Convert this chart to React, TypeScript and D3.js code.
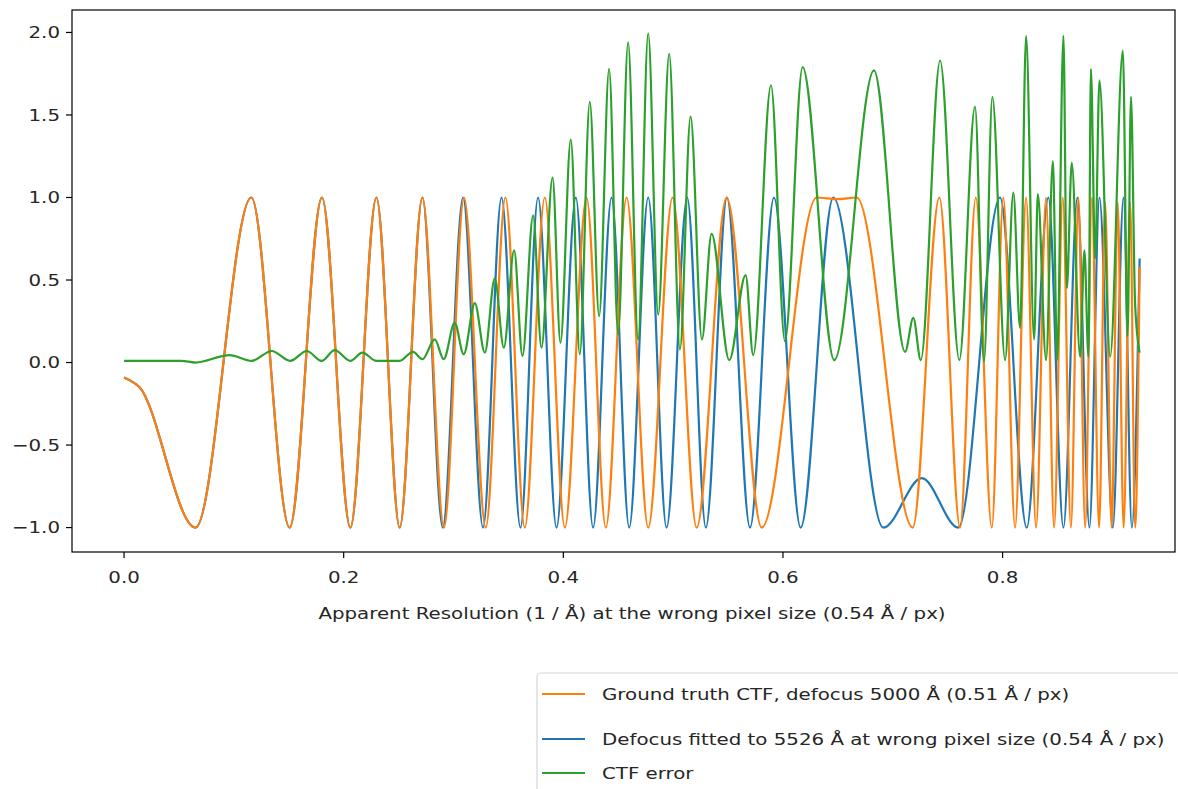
import React from 'react';
import * as d3 from 'd3';

// extrema, [resolution 1/Å, CTF value]
const groundTruth: [number, number][] = [
  [0, -0.09], [0.0141, -0.15], [0.0651, -1], [0.1159, 1], [0.1508, -1], [0.1802, 1],
  [0.2061, -1], [0.2298, 1], [0.251, -1], [0.2717, 1], [0.2914, -1], [0.3096, 1],
  [0.3294, -1], [0.3473, 1], [0.3649, -1], [0.3831, 1], [0.4014, -1], [0.4211, 1],
  [0.4387, -1], [0.4576, 1], [0.4773, -1], [0.4995, 1], [0.5214, -1], [0.5487, 1],
  [0.5806, -1], [0.6307, 1], [0.6492, 0.99], [0.6671, 1], [0.7182, -1], [0.7424, 1],
  [0.7613, -1], [0.7756, 1], [0.7902, -1], [0.8007, 1], [0.8114, -1], [0.8214, 1],
  [0.8305, -1], [0.8396, 1], [0.8469, -1], [0.8548, 1], [0.8622, -1], [0.8691, 1],
  [0.8752, -1], [0.8813, 1], [0.8879, -1], [0.8934, 0.97], [0.8993, -1], [0.9048, 0.97],
  [0.9102, -1], [0.9162, 0.97], [0.9207, -1], [0.9248, 0.58],
];

const fitted: [number, number][] = [
  [0, -0.09], [0.0141, -0.15], [0.0651, -1], [0.1159, 1], [0.1508, -1], [0.1802, 1],
  [0.2061, -1], [0.2298, 1], [0.251, -1], [0.2717, 1], [0.2902, -1], [0.3087, 1],
  [0.3269, -1], [0.3437, 1], [0.361, -1], [0.377, 1], [0.3938, -1], [0.4114, 1],
  [0.4271, -1], [0.4439, 1], [0.46, -1], [0.4773, 1], [0.494, -1], [0.5128, 1],
  [0.5298, -1], [0.549, 1], [0.57, -1], [0.5918, 1], [0.6161, -1], [0.6458, 1],
  [0.6914, -1], [0.7264, -0.7], [0.7597, -1], [0.7977, 1], [0.822, -1], [0.8417, 1],
  [0.8554, -1], [0.8681, 1], [0.8791, -1], [0.8882, 1], [0.9004, -1], [0.9101, 1],
  [0.9177, -1], [0.9248, 0.63],
];

const ctfError: [number, number][] = [
  [0, 0.01], [0.0521, 0.01], [0.0651, 0], [0.0961, 0.045], [0.1162, 0.01], [0.1344, 0.07],
  [0.1514, 0.01], [0.1663, 0.07], [0.18, 0.01], [0.1918, 0.075], [0.2061, 0.01], [0.217, 0.06],
  [0.2298, 0.01], [0.251, 0.01], [0.2631, 0.065], [0.2717, 0.02], [0.2829, 0.14], [0.2911, 0.02],
  [0.3011, 0.24], [0.3093, 0.05], [0.3194, 0.36], [0.3285, 0.06], [0.3376, 0.51], [0.3458, 0.09],
  [0.3552, 0.68], [0.3628, 0.04], [0.3725, 0.89], [0.3801, 0.09], [0.3902, 1.12], [0.3974, 0.12],
  [0.4068, 1.35], [0.415, 0.05], [0.4241, 1.58], [0.4326, 0.28], [0.4417, 1.78], [0.4499, 0.17],
  [0.459, 1.94], [0.4681, 0.14], [0.4773, 1.995], [0.4864, 0.29], [0.4964, 1.87], [0.5062, 0.08],
  [0.5159, 1.49], [0.5262, 0.14], [0.535, 0.78], [0.5511, 0.015], [0.566, 0.53], [0.5729, 0.045],
  [0.5891, 1.68], [0.6018, 0.13], [0.6179, 1.79], [0.6467, 0.015], [0.6829, 1.77], [0.7112, 0.065],
  [0.7187, 0.27], [0.7255, 0.015], [0.7431, 1.83], [0.7606, 0.015], [0.7749, 1.55], [0.7831, 0.005],
  [0.7907, 1.61], [0.8023, 0.015], [0.8098, 1.03], [0.8159, 0.21], [0.8214, 1.98], [0.8287, 0.14],
  [0.8321, 1.02], [0.8396, 0.015], [0.8458, 1.22], [0.8497, 0.015], [0.8554, 1.98], [0.8585, 0.45],
  [0.863, 1.21], [0.8706, 0.035], [0.8745, 0.68], [0.8782, 0.035], [0.8804, 1.78], [0.8843, 0.63],
  [0.8882, 1.71], [0.898, 0.035], [0.9095, 1.89], [0.9138, 0.16], [0.9169, 1.61], [0.9207, 0.35],
  [0.9248, 0.06],
];

const xTicks = [0, 0.2, 0.4, 0.6, 0.8];
const yTicks = [-1, -0.5, 0, 0.5, 1, 1.5, 2];
const legendLabels = [
  'Ground truth CTF, defocus 5000 Å (0.51 Å / px)',
  'Defocus fitted to 5526 Å at wrong pixel size (0.54 Å / px)',
  'CTF error',
];
const xLabel = 'Apparent Resolution (1 / Å) at the wrong pixel size (0.54 Å / px)';

const W = 1178;
const H = 789;
const plot = { left: 72, right: 1175, top: 10, bottom: 552 };
const font = 'DejaVu Sans, sans-serif';
const fontSize = 16.5;
const stretch = 1.2; // the picture's glyphs are wider than DejaVu at this height

function Label({ x, y, anchor = 'start', children }: { x: number; y: number; anchor?: string; children: string }) {
  return (
    <text
      transform={`translate(${x},${y}) scale(${stretch},1)`}
      dy="0.35em"
      textAnchor={anchor}
      fontSize={fontSize}
      fill="#262626"
    >
      {children}
    </text>
  );
}

export default function App() {
  const x = d3.scaleLinear().domain([-0.0474, 0.957]).range([plot.left, plot.right]);
  const y = d3.scaleLinear().domain([-1.148, 2.136]).range([plot.bottom, plot.top]);
  const line = d3
    .line<[number, number]>()
    .x((d) => x(d[0]))
    .y((d) => y(d[1]))
    .curve(d3.curveMonotoneX);

  const fmt = (v: number) => d3.format('.1f')(v).replace('-', '\u2212');

  // plotted order: fitted (C0), ground truth (C1), error (C2)
  const series = [
    { data: fitted, color: '#1f77b4' },
    { data: groundTruth, color: '#ff7f0e' },
    { data: ctfError, color: '#2ca02c' },
  ];
  const legendColors = ['#ff7f0e', '#1f77b4', '#2ca02c'];
  const legendRows = [694, 739, 773];

  return (
    <svg width={W} height={H} style={{ position: 'absolute', left: 0, top: 0 }} fontFamily={font}>
      <rect width={W} height={H} fill="#fff" />
      <defs>
        <clipPath id="plotclip">
          <rect x={plot.left} y={plot.top} width={plot.right - plot.left} height={plot.bottom - plot.top} />
        </clipPath>
      </defs>
      <g clipPath="url(#plotclip)">
        {series.map((s, i) => (
          <path key={i} d={line(s.data) ?? ''} fill="none" stroke={s.color} strokeWidth={2.2} strokeLinejoin="round" />
        ))}
      </g>
      <rect
        x={plot.left}
        y={plot.top}
        width={plot.right - plot.left}
        height={plot.bottom - plot.top}
        fill="none"
        stroke="#000"
        strokeWidth={1.2}
      />
      {xTicks.map((t) => (
        <g key={t}>
          <line x1={x(t)} x2={x(t)} y1={plot.bottom} y2={plot.bottom + 6} stroke="#000" strokeWidth={1.2} />
          <Label x={x(t)} y={577} anchor="middle">
            {fmt(t)}
          </Label>
        </g>
      ))}
      {yTicks.map((t) => (
        <g key={t}>
          <line x1={plot.left - 6} x2={plot.left} y1={y(t)} y2={y(t)} stroke="#000" strokeWidth={1.2} />
          <Label x={plot.left - 12} y={y(t)} anchor="end">
            {fmt(t)}
          </Label>
        </g>
      ))}
      <Label x={632} y={613} anchor="middle">
        {xLabel}
      </Label>
      <g>
        <rect x={537} y={673} width={660} height={140} rx={4} fill="#fff" stroke="#d6d6d6" strokeWidth={1.2} />
        {legendLabels.map((lab, i) => (
          <g key={lab}>
            <line x1={542} x2={585} y1={legendRows[i]} y2={legendRows[i]} stroke={legendColors[i]} strokeWidth={2.2} />
            <Label x={602} y={legendRows[i]}>
              {lab}
            </Label>
          </g>
        ))}
      </g>
    </svg>
  );
}
